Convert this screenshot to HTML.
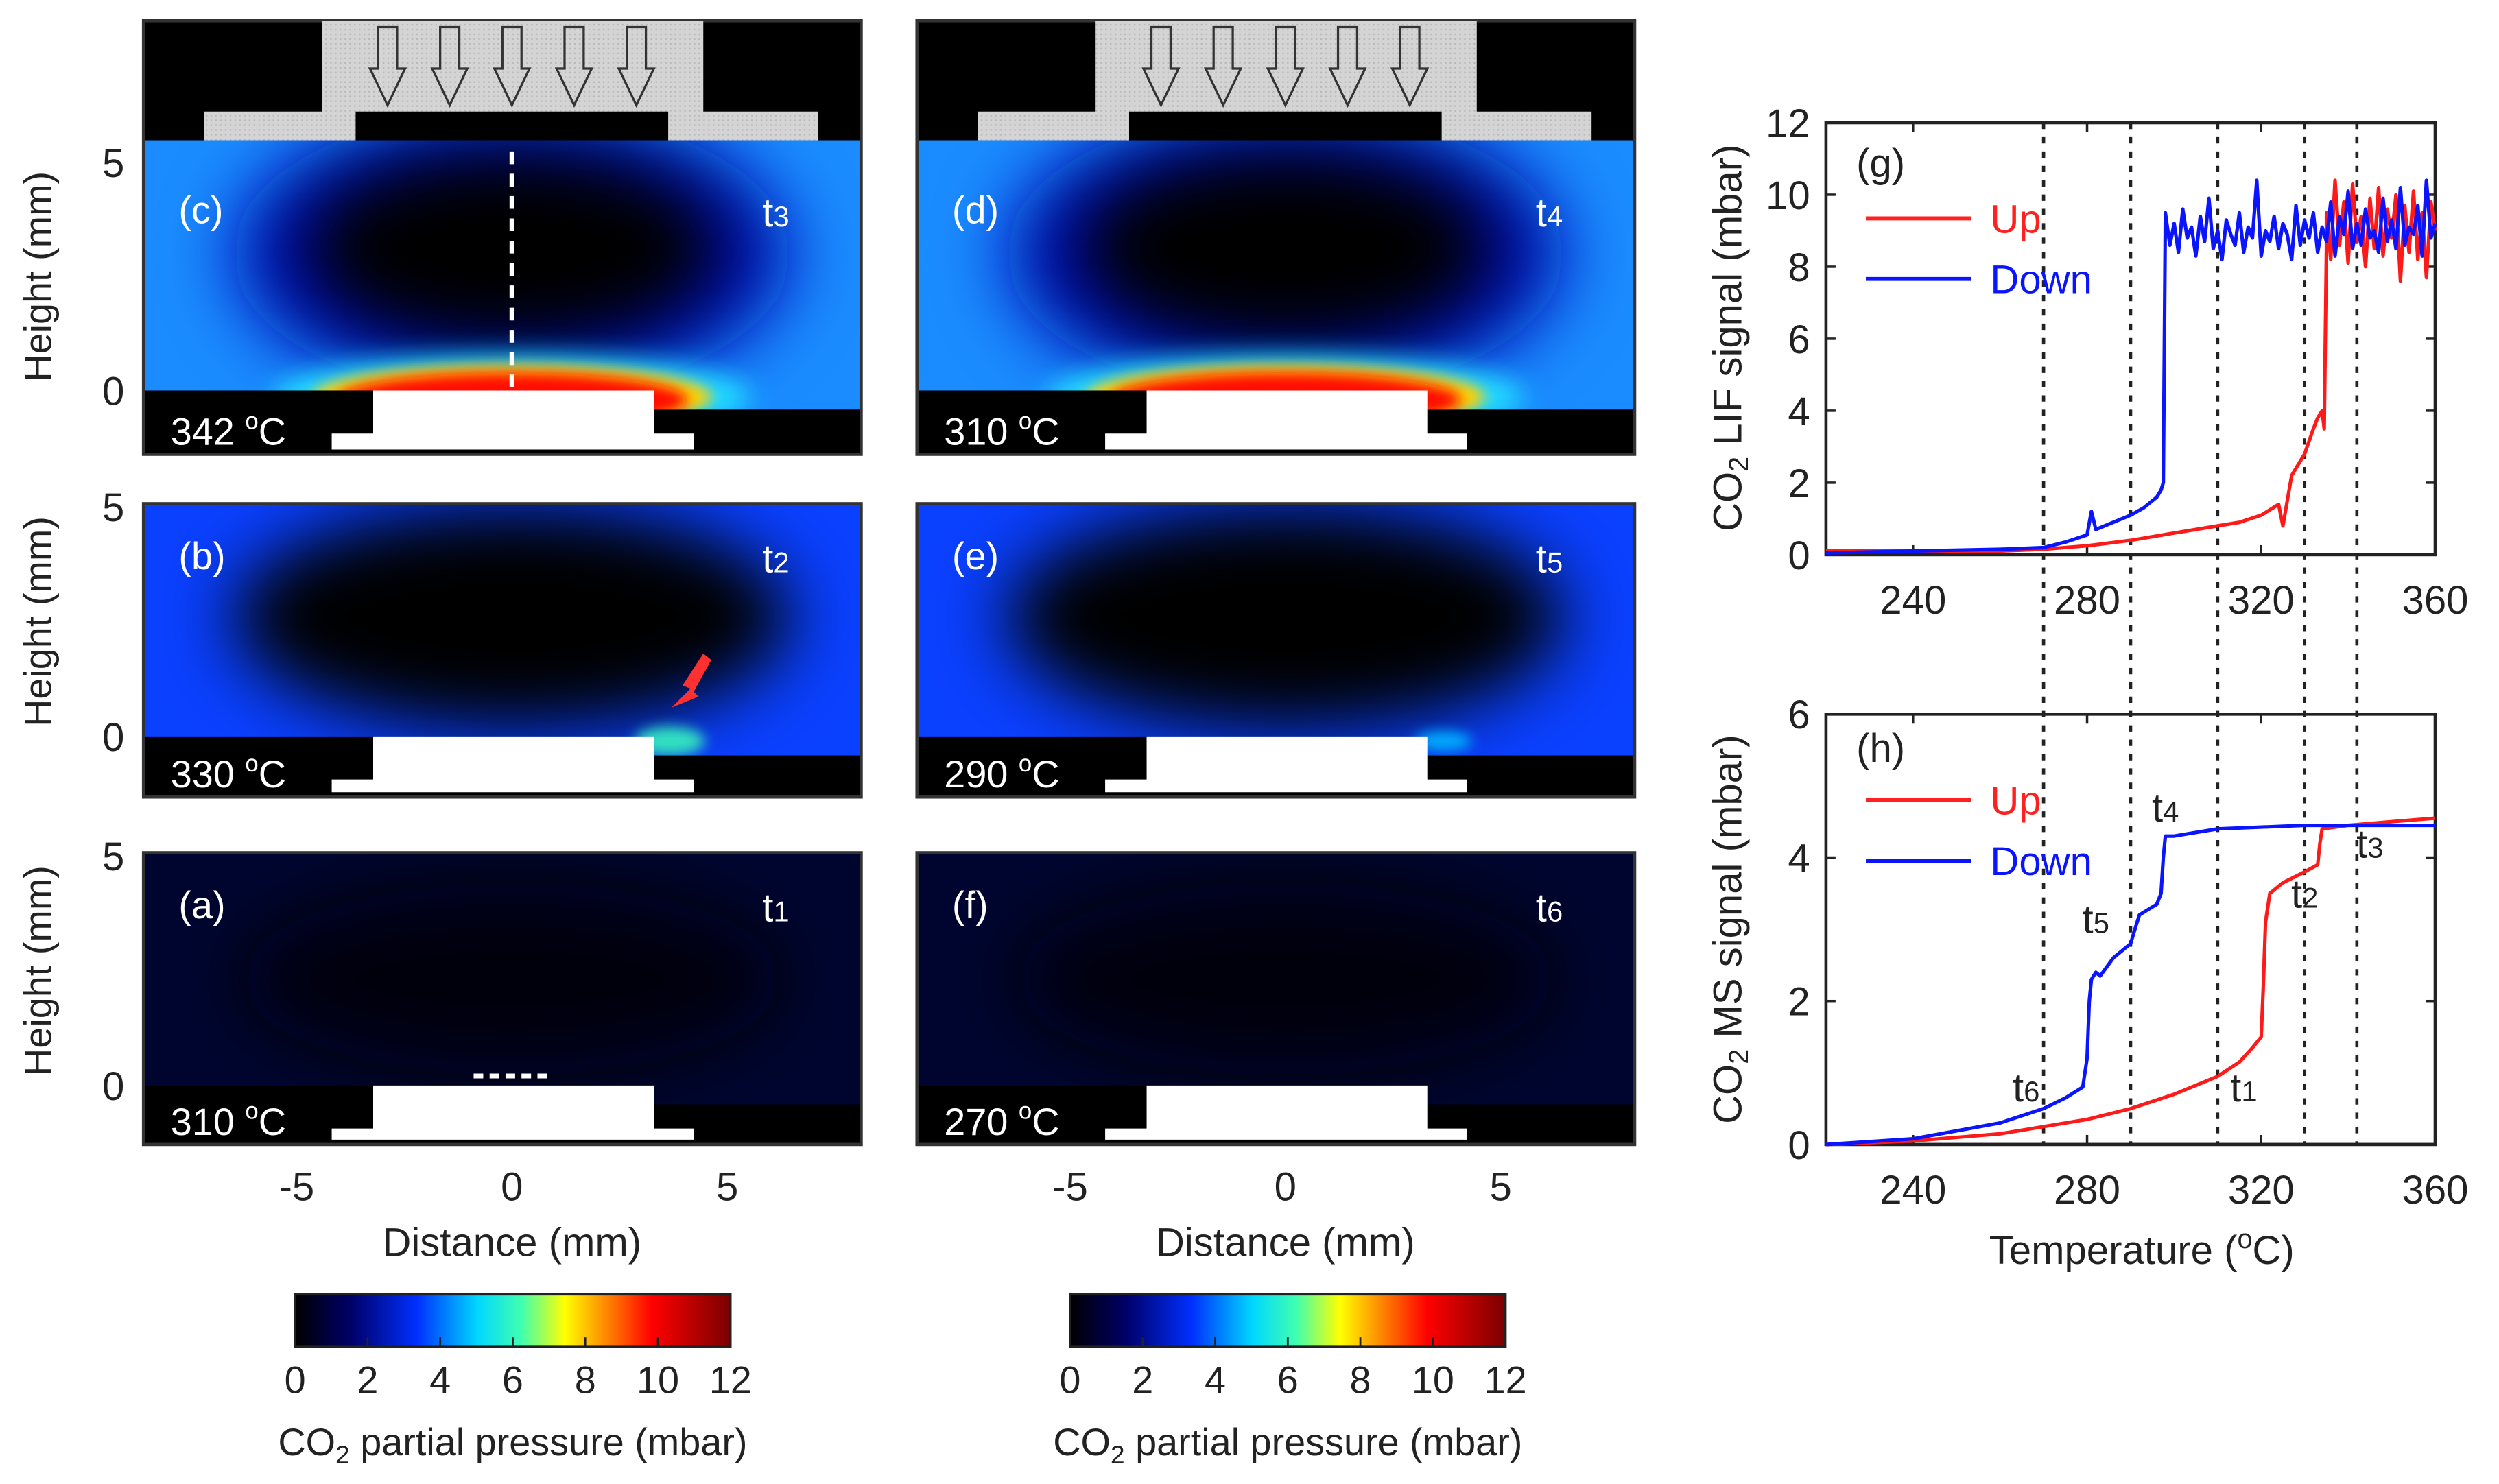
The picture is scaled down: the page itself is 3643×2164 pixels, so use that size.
<!DOCTYPE html>
<html><head><meta charset="utf-8"><style>
html,body{margin:0;padding:0;background:#fff;}
svg{display:block;font-family:"Liberation Sans",sans-serif;}
</style></head><body>
<svg id="fig" width="3643" height="2164" viewBox="0 0 1567 931" preserveAspectRatio="none" xmlns="http://www.w3.org/2000/svg">
<defs>
<linearGradient id="jet" x1="0" x2="1" y1="0" y2="0">
<stop offset="0" stop-color="#000"/><stop offset="0.13" stop-color="#00006a"/><stop offset="0.28" stop-color="#0030ff"/><stop offset="0.42" stop-color="#00d8ff"/><stop offset="0.52" stop-color="#40ffb0"/><stop offset="0.62" stop-color="#ffff00"/><stop offset="0.72" stop-color="#ff8000"/><stop offset="0.82" stop-color="#ff0000"/><stop offset="1" stop-color="#7a0000"/>
</linearGradient>
<filter id="blur20" x="-50%" y="-50%" width="200%" height="200%"><feGaussianBlur stdDeviation="22"/></filter>
<filter id="blur8" x="-50%" y="-50%" width="200%" height="200%"><feGaussianBlur stdDeviation="8"/></filter>
<filter id="blur4" x="-50%" y="-50%" width="200%" height="200%"><feGaussianBlur stdDeviation="4"/></filter>
<pattern id="dots" width="3" height="3" patternUnits="userSpaceOnUse"><rect width="3" height="3" fill="#d4d4d4"/><rect width="1" height="1" fill="#b8b8b8"/></pattern>
</defs>
<g id="panels"></g>
<g id="charts"></g>
</svg>
<script>
const xTicks = [240, 280, 320, 360];
const lifTicks = [0, 2, 4, 6, 8, 10, 12];
const msTicks = [0, 2, 4, 6];
const markerTemps = [270, 290, 310, 330, 342];

const lifUpT = [220,260,270,280,290,300,310,315,320,324,325,327,330,332,333,334,334.5,335];
const lifUpV = [0.1,0.1,0.15,0.25,0.4,0.6,0.8,0.9,1.1,1.4,0.8,2.2,2.8,3.5,3.8,4.0,3.5,8.5];
const lifUpPlateauRange = [335, 360];
const lifUpPlateau = [9.5,8.2,10.4,8.6,9.8,8.1,10.3,8.7,9.4,8.0,9.9,8.5,10.2,8.3,9.6,8.8,10.0,7.6,9.7,8.4,10.1,8.2,9.5,7.7,9.8,9.0];

const lifDownT = [220,240,260,270,275,280,281,282,285,290,293,296,297,297.5];
const lifDownV = [0.05,0.1,0.15,0.2,0.35,0.55,1.2,0.7,0.85,1.1,1.3,1.6,1.8,2.0];
const lifDownPlateauRange = [298, 360];
const lifDownPlateau = [9.5,8.6,9.2,8.4,9.6,8.8,9.1,8.3,9.4,8.7,9.9,8.5,9.0,8.2,9.3,8.9,8.6,9.5,8.4,9.1,8.8,10.4,8.3,9.0,8.7,9.4,8.5,9.2,8.9,8.2,9.7,8.6,9.3,8.8,9.5,8.4,9.1,8.7,9.8,8.3,9.4,8.9,10.1,8.5,9.2,8.6,9.6,8.8,9.0,8.4,9.9,8.7,9.3,8.5,10.2,8.6,9.1,8.9,9.7,8.3,10.4,8.8,9.2];

const msUpT = [220,240,260,280,290,300,310,315,318,320,320.5,321,322,325,330,333,333.5,334,340,350,360];
const msUpV = [0,0.05,0.15,0.35,0.5,0.7,0.95,1.15,1.35,1.5,2.2,3.1,3.5,3.65,3.8,3.9,4.2,4.4,4.45,4.5,4.55];
const msDownT = [220,240,260,270,275,279,280,280.5,281,282,283,286,290,291,292,296,297,297.5,298,300,310,330,360];
const msDownV = [0,0.08,0.3,0.5,0.65,0.8,1.2,2.0,2.3,2.4,2.35,2.6,2.8,3.0,3.2,3.35,3.5,4.0,4.3,4.3,4.4,4.45,4.45];

const tLabels = ["t1","t2","t3","t4","t5","t6"];
const tLabelT = [316, 330, 345, 298, 282, 266];
const tLabelV = [0.6, 3.3, 4.0, 4.5, 2.95, 0.6];

const NS = "http://www.w3.org/2000/svg";
function mk(tag, attrs, parent, text){
  const e = document.createElementNS(NS, tag);
  for (const k in attrs) e.setAttribute(k, attrs[k]);
  if (text !== undefined) e.textContent = text;
  parent.appendChild(e);
  return e;
}
const charts = document.getElementById('charts');
const X0 = 1145, X1 = 1527;
const xs = t => X0 + (t - 220) / 140 * (X1 - X0);
const G = {top:77, bot:348, max:12};
const H = {top:448, bot:718, max:6};
const yg = v => G.bot - v / G.max * (G.bot - G.top);
const yh = v => H.bot - v / H.max * (H.bot - H.top);

function pts(T, V, ys){ return T.map((t,i)=> xs(t).toFixed(1)+","+ys(V[i]).toFixed(1)); }
function plateauPts(range, vals, ys){
  return vals.map((v,i)=> xs(range[0] + i*(range[1]-range[0])/(vals.length-1)).toFixed(1)+","+ys(v).toFixed(1));
}

function axes(A, ys, ticks, name){
  const r = mk('rect',{x:X0,y:A.top,width:X1-X0,height:A.bot-A.top,fill:'#fff',stroke:'#222','stroke-width':2},charts);
  
  
  ticks.forEach(v=>{
    const y = ys(v);
    mk('line',{x1:X0,x2:X0+6,y1:y,y2:y,stroke:'#222','stroke-width':1.5},charts);
    mk('line',{x1:X1,x2:X1-6,y1:y,y2:y,stroke:'#222','stroke-width':1.5},charts);
    const t = mk('text',{x:X0-10,y:y+9,'text-anchor':'end','font-size':25,fill:'#222'},charts,String(v));
    
    
  });
  xTicks.forEach(v=>{
    const x = xs(v);
    mk('line',{x1:x,x2:x,y1:A.bot,y2:A.bot-6,stroke:'#222','stroke-width':1.5},charts);
    mk('line',{x1:x,x2:x,y1:A.top,y2:A.top+6,stroke:'#222','stroke-width':1.5},charts);
    const t = mk('text',{x:x,y:A.bot+37,'text-anchor':'middle','font-size':25,fill:'#222'},charts,String(v));
    
    
  });
}
axes(G, yg, lifTicks, 'lif');
axes(H, yh, msTicks, 'ms');

markerTemps.forEach(t=>{
  const l = mk('line',{x1:xs(t),x2:xs(t),y1:G.top,y2:H.bot,stroke:'#222','stroke-width':2,'stroke-dasharray':'4,5'},charts);
  
  
});

function series(points, color, name){
  const p = mk('polyline',{points:points.join(' '),fill:'none',stroke:color,'stroke-width':2.2,'stroke-linejoin':'round'},charts);
  
  
}
series(pts(lifUpT,lifUpV,yg).concat(plateauPts(lifUpPlateauRange,lifUpPlateau,yg)), '#ff1a1a', 'lif-up-series');
series(pts(lifDownT,lifDownV,yg).concat(plateauPts(lifDownPlateauRange,lifDownPlateau,yg)), '#0a14ff', 'lif-down-series');
series(pts(msUpT,msUpV,yh), '#ff1a1a', 'ms-up-series');
series(pts(msDownT,msDownV,yh), '#0a14ff', 'ms-down-series');

tLabels.forEach((s,i)=>{
  const t = mk('text',{x:xs(tLabelT[i]),y:yh(tLabelV[i]),'font-size':25,fill:'#222','text-anchor':'middle'},charts);
  
  
  mk('tspan',{},t,'t');
  mk('tspan',{'font-size':18},t,s.slice(1));
});

function legend(yUp, yDown, name){
  [['Up','#ff2020',yUp],['Down','#0a14ff',yDown]].forEach(([lab,c,y])=>{
    const l = mk('line',{x1:1170,x2:1236,y1:y,y2:y,stroke:c,'stroke-width':2.5},charts);
    
    
    const t = mk('text',{x:1248,y:y+9,'font-size':25,fill:c},charts,lab);
    
    
  });
}
legend(137,175,'lif');
legend(502,540,'ms');
[['(g)',1164,111],['(h)',1164,478]].forEach(([s,x,y])=>{
  const t = mk('text',{x:x,y:y,'font-size':25,fill:'#222'},charts,s);
  
  
});
function ylab(text, cy, name){
  const t = mk('text',{x:0,y:0,'font-size':25,fill:'#222','text-anchor':'middle',transform:`translate(1092,${cy}) rotate(-90)`},charts);
  
  
  mk('tspan',{},t,'CO');
  mk('tspan',{'font-size':17,dy:4},t,'2');
  mk('tspan',{dy:-4},t,text);
}
ylab(' LIF signal (mbar)', 212, 'lif-y-axis-title');
ylab(' MS signal (mbar)', 583, 'ms-y-axis-title');
{
  const t = mk('text',{x:1343,y:793,'font-size':25,fill:'#222','text-anchor':'middle'},charts);
  
  
  mk('tspan',{},t,'Temperature (');
  mk('tspan',{'font-size':17,dy:-10},t,'o');
  mk('tspan',{dy:10},t,'C)');
}

const P = document.getElementById('panels');
const colX = [90, 575];
const rows = [
  {top:13, zero:245, five:102, imgTop:88, bot:285, hasHead:true},
  {top:316, zero:462, five:318, imgTop:316, bot:500},
  {top:535, zero:681, five:537, imgTop:535, bot:718}
];
const letters = [['(c)','(d)'],['(b)','(e)'],['(a)','(f)']];
const tsub = [['3','4'],['2','5'],['1','6']];
const temps = [['342','310'],['330','290'],['310','270']];
const kinds = [['high','high'],['mid','mid2'],['low','low']];

rows.forEach((r,ri)=>{
  colX.forEach((x0,ci)=>{
    const g = mk('g',{},P);
    
    
    const W = 450, cx = x0 + 231;
    const clipId = 'clip'+ri+ci;
    const cp = mk('clipPath',{id:clipId},g);
    mk('rect',{x:x0,y:r.imgTop,width:W,height:r.zero+12-r.imgTop},cp);
    mk('rect',{x:x0,y:r.top,width:W,height:r.bot-r.top,fill:'#000'},g);
    const img = mk('g',{'clip-path':`url(#${clipId})`},g);
    const k = kinds[ri][ci];
    const ih = r.zero + 12 - r.imgTop;
    if (k==='high'){
      mk('rect',{x:x0,y:r.imgTop,width:W,height:ih,fill:'#1a8cff'},img);
      mk('ellipse',{cx:cx,cy:r.imgTop+ih*0.42,rx:175,ry:90,fill:'#0010b0',filter:'url(#blur20)'},img);
      mk('ellipse',{cx:cx,cy:r.imgTop+ih*0.4,rx:130,ry:62,fill:'#000',filter:'url(#blur20)'},img);
      mk('ellipse',{cx:cx,cy:r.zero+4,rx:150,ry:26,fill:'#20e0ff',filter:'url(#blur8)'},img);
      mk('ellipse',{cx:cx,cy:r.zero+4,rx:125,ry:20,fill:'#ffd000',filter:'url(#blur4)'},img);
      mk('ellipse',{cx:cx,cy:r.zero+6,rx:110,ry:17,fill:'#ff1000',filter:'url(#blur4)'},img);
    } else if (k==='mid' || k==='mid2'){
      mk('rect',{x:x0,y:r.imgTop,width:W,height:ih,fill:'#0a40ff'},img);
      mk('ellipse',{cx:cx,cy:r.imgTop+ih*0.45,rx:175,ry:70,fill:'#000',filter:'url(#blur20)'},img);
      if (k==='mid'){
        mk('ellipse',{cx:x0+330,cy:r.zero+3,rx:22,ry:9,fill:'#30e0c0',filter:'url(#blur4)'},img);
      } else {
        mk('ellipse',{cx:x0+330,cy:r.zero+3,rx:18,ry:6,fill:'#00b0ff',filter:'url(#blur4)'},img);
      }
    } else {
      mk('rect',{x:x0,y:r.imgTop,width:W,height:ih,fill:'#000530'},img);
      mk('ellipse',{cx:cx,cy:r.imgTop+ih*0.5,rx:170,ry:60,fill:'#000008',filter:'url(#blur20)'},img);
    }
    mk('rect',{x:x0,y:r.zero,width:144,height:r.bot-r.zero,fill:'#000'},g);
    mk('rect',{x:x0+320,y:r.zero+12,width:W-320,height:r.bot-r.zero-12,fill:'#000'},g);
    const ped = mk('path',{d:`M${x0+144},${r.zero} H${x0+320} V${r.zero+27} H${x0+345} V${r.bot-3} H${x0+118} V${r.zero+27} H${x0+144} Z`,fill:'#fff'},g);
    
    
    mk('rect',{x:x0,y:r.top,width:W,height:r.bot-r.top,fill:'none',stroke:'#333','stroke-width':2},g);
    if (r.hasHead){
      const hd = mk('path',{d:`M${x0+112},${r.top} H${x0+351} V${r.top+57} H${x0+423} V${r.imgTop} H${x0+329} V${r.top+57} H${x0+133} V${r.imgTop} H${x0+38} V${r.top+57} H${x0+112} Z`,fill:'url(#dots)'},g);
      
      
      for (let a=0;a<5;a++){
        const ax = x0 + 153 + a*39;
        const ar = mk('path',{d:`M${ax-6},${r.top+4} H${ax+6} V${r.top+30} H${ax+11} L${ax},${r.top+53} L${ax-11},${r.top+30} H${ax-6} Z`,fill:'none',stroke:'#333','stroke-width':1.4},g);
        
        
      }
    }
    const lt = mk('text',{x:x0+22,y:r.top+(r.hasHead?127:41),'font-size':24,fill:'#fff'},g,letters[ri][ci]);
    
    
    const tt = mk('text',{x:x0+388,y:r.top+(r.hasHead?129:43),'font-size':25,fill:'#fff'},g);
    
    
    mk('tspan',{},tt,'t');
    mk('tspan',{'font-size':18},tt,tsub[ri][ci]);
    const tp = mk('text',{x:x0+17,y:r.bot-6,'font-size':24,fill:'#fff'},g);
    
    
    mk('tspan',{},tp,temps[ri][ci]+' ');
    mk('tspan',{'font-size':15,dy:-10},tp,'o');
    mk('tspan',{dy:10},tp,'C');
    if (ci===0){
      const yl = mk('text',{x:0,y:0,'font-size':24,fill:'#222','text-anchor':'middle',transform:`translate(${x0-58},${(r.five+r.zero)/2}) rotate(-90)`},g,'Height (mm)');
      
      
      [[r.five,'5'],[r.zero,'0']].forEach(([y,s])=>{
        const t = mk('text',{x:x0-12,y:y+9,'font-size':25,fill:'#222','text-anchor':'end'},g,s);
        
        
      });
    }
  });
});
colX.forEach(x0=>{
  [[-5,x0+96],[0,x0+231],[5,x0+366]].forEach(([v,x])=>{
    const t = mk('text',{x:x,y:753,'font-size':25,fill:'#222','text-anchor':'middle'},P,String(v));
    
    
  });
  const t = mk('text',{x:x0+231,y:788,'font-size':25,fill:'#222','text-anchor':'middle'},P,'Distance (mm)');
  
  
});
{
  const l = mk('line',{x1:321,x2:321,y1:95,y2:243,stroke:'#fff','stroke-width':3,'stroke-dasharray':'8,6'},P);
  
  
  const l2 = mk('line',{x1:297,x2:346,y1:675,y2:675,stroke:'#fff','stroke-width':3,'stroke-dasharray':'6,4'},P);
  
  
  const ar = mk('path',{d:'M441,410 L428,430 L433,432 L421,444 L438,437 L435,434 L446,414 Z',fill:'#ff3030'},P);
  
  
}
const cbTicks = [0,2,4,6,8,10,12];
[185, 671].forEach((x0,i)=>{
  const w = 273;
  const r = mk('rect',{x:x0,y:812,width:w,height:33,fill:'url(#jet)',stroke:'#222','stroke-width':1.5},P);
  
  
  cbTicks.forEach(v=>{
    const x = x0 + v/12*w;
    mk('line',{x1:x,x2:x,y1:845,y2:839,stroke:'#222','stroke-width':1.2},P);
    const t = mk('text',{x:x,y:874,'font-size':24,fill:'#222','text-anchor':'middle'},P,String(v));
    
    
  });
  const t = mk('text',{x:x0+w/2,y:913,'font-size':24,fill:'#222','text-anchor':'middle'},P);
  
  
  mk('tspan',{},t,'CO');
  mk('tspan',{'font-size':16,dy:5},t,'2');
  mk('tspan',{dy:-5},t,' partial pressure (mbar)');
});
</script>
</body></html>
